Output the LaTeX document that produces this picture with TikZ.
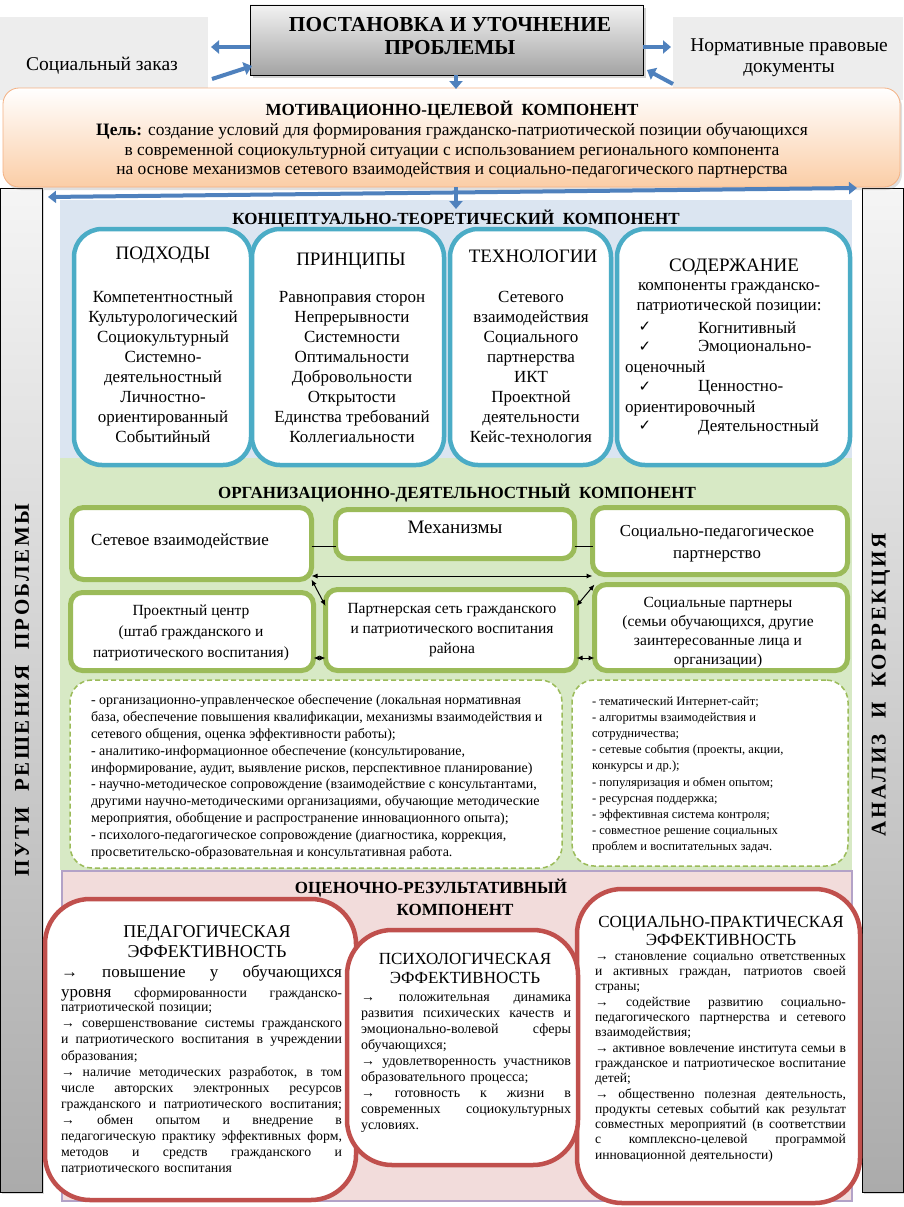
\documentclass[tikz,border=0pt]{standalone}
\usepackage{fontspec}
\setmainfont{LiberationSerif}[Extension=.ttf, UprightFont=*-Regular, BoldFont=*-Bold, ItalicFont=*-Italic, BoldItalicFont=*-BoldItalic]
\newfontfamily\dejavu{DejaVu Sans}
\newfontfamily\barfont{LiberationSerif}[Extension=.ttf, UprightFont=*-Regular, BoldFont=*-Bold, LetterSpace=12]
\usetikzlibrary{shadows,arrows.meta}
\definecolor{arrowblue}{HTML}{4F81BD}
\definecolor{aqualine}{HTML}{4BACC6}
\definecolor{oliveline}{HTML}{9BBB59}
\definecolor{redline}{HTML}{C0504D}
\definecolor{bluebg}{HTML}{DBE5F1}
\definecolor{greenbg}{HTML}{D7E9C5}
\definecolor{pinkbg}{HTML}{F2DCDB}
\definecolor{lavline}{HTML}{B3A2C7}
\definecolor{peach}{HTML}{FBCDA6}
\definecolor{peachline}{HTML}{F4B183}
\definecolor{sidegray}{HTML}{EDEDED}
\newcommand\fs[2]{\fontsize{#1}{#2}\selectfont}
\newcommand\jl[1]{\leavevmode\hbox to\hsize{\spaceskip=0.28em plus 1fil minus 0.06em\relax #1}}
\begin{document}
\begin{tikzpicture}[x=1pt,y=-1pt,
  plainrect/.style={rectangle, inner sep=0pt, outer sep=0pt},
  txt/.style={inner sep=0pt, outer sep=0pt},
  barrow/.style={draw=arrowblue, line width=4pt, -{Triangle[length=8pt,width=13pt]}},
  aquabox/.style={plainrect, draw=aqualine, line width=4.5pt, fill=white, rounded corners=28pt},
  olivebox/.style={plainrect, draw=oliveline, line width=5pt, fill=white, rounded corners=12pt},
  dashbox/.style={plainrect, draw=oliveline, line width=1.5pt, dash pattern=on 5pt off 3pt, fill=white, rounded corners=22pt},
  redbox/.style={plainrect, draw=redline, line width=4.5pt, fill=white, rounded corners=45pt},
  dblarrow/.style={draw=black, line width=1pt, {Latex[length=6pt,width=5pt]}-{Latex[length=6pt,width=5pt]}},
  thinline/.style={draw=black, line width=0.8pt},
  sidebar/.style={plainrect, draw=black, line width=0.8pt, top color=black!4, bottom color=black!33},
  ttl/.style={txt, font=\bfseries\fs{17}{21}},
  itm/.style={txt, align=center, font=\fs{17}{20}},
  hdr/.style={txt, font=\fs{19}{22}},
  chk/.style={txt, font=\dejavu\fs{15}{16}},
]
\useasboundingbox (0,0) rectangle (903,1207);
\fill[white] (0,0) rectangle (903,1207);

% grey side areas at the top
\node[plainrect, fill=sidegray, minimum width=208pt, minimum height=83pt] (lgray) at (104,58.5) {};
\node[plainrect, fill=sidegray, minimum width=230pt, minimum height=83pt] (rgray) at (788,58.5) {};
\node[txt, font=\fs{19.5}{22}] (lgraytxt) at (102,66) {Социальный заказ};
\node[txt, align=center, font=\fs{19.5}{21}] (rgraytxt) at (789,57.5) {Нормативные правовые\\документы};

% side bars
\node[sidebar, drop shadow={opacity=0.3,shadow xshift=2pt,shadow yshift=-2pt}, minimum width=42pt, minimum height=1004pt] (lbar) at (21,690) {};
\node[sidebar, drop shadow={opacity=0.3,shadow xshift=2pt,shadow yshift=-2pt}, minimum width=41pt, minimum height=1004pt] (rbar) at (882.5,690) {};
\node[txt, rotate=90, font=\barfont\bfseries\fs{21}{24}] (lbartxt) at (22,690) {ПУТИ\hspace{15pt}РЕШЕНИЯ\hspace{15pt}ПРОБЛЕМЫ};
\node[txt, rotate=90, font=\barfont\bfseries\fs{21}{24}] (rbartxt) at (881,685) {АНАЛИЗ\hspace{15pt}И\hspace{15pt}КОРРЕКЦИЯ};

% section backgrounds
\node[plainrect, fill=bluebg, minimum width=792pt, minimum height=258pt] (bluebg) at (456,329) {};
\node[plainrect, fill=greenbg, minimum width=792pt, minimum height=412pt] (greenbg) at (456,664) {};
\node[plainrect, fill=pinkbg, draw=lavline, line width=2.5pt, minimum width=790pt, minimum height=330pt] (pinkbg) at (457,1036) {};

% top box
\node[plainrect, draw=black, line width=0.8pt, top color=black!5, bottom color=black!36,
  drop shadow={opacity=0.35,shadow xshift=3pt,shadow yshift=-3pt},
  minimum width=393pt, minimum height=70pt] (topbox) at (446.5,40) {};
\node[txt, align=center, font=\bfseries\fs{21.3}{23}] (toptxt) at (450,36) {ПОСТАНОВКА И УТОЧНЕНИЕ\\ПРОБЛЕМЫ};

% top arrows
\coordinate (l1end) at (211,47);
\coordinate (l2start) at (212,79);
\coordinate (l2end) at (252,66);
\coordinate (r1end) at (671,47);
\coordinate (r2start) at (673,84);
\coordinate (r2end) at (647,70);
\draw[barrow] (topbox.west |- l1end) -- (l1end);
\draw[barrow] (l2start) -- (l2end);
\draw[barrow] (topbox.east |- r1end) -- (r1end);
\draw[barrow] (r2start) -- (r2end);

% orange box
\node[plainrect, rounded corners=16pt, draw=peachline, line width=0.8pt, top color=white, bottom color=peach,
  drop shadow={opacity=0.25,shadow xshift=2pt,shadow yshift=-3pt},
  minimum width=897pt, minimum height=99pt] (orange) at (451.5,137.5) {};
\node[ttl] (otitle) at (452,110) {МОТИВАЦИОННО-ЦЕЛЕВОЙ\ \ КОМПОНЕНТ};
\node[txt, align=center, font=\fs{17.4}{19.5}] (otext) at (452,151) {\textbf{Цель:} создание условий для формирования гражданско-патриотической позиции обучающихся\\в современной социокультурной ситуации с использованием регионального компонента\\на основе механизмов сетевого взаимодействия и социально-педагогического партнерства};

\coordinate (d1end) at (456,89);
\draw[barrow] (topbox.south -| d1end) -- (d1end);
\coordinate (ba1) at (48,197);
\coordinate (ba2) at (857,188);
\draw[draw=arrowblue, line width=4pt, {Triangle[length=8pt,width=12pt]}-{Triangle[length=8pt,width=12pt]}] (ba1) -- (ba2);
\coordinate (d2end) at (456,209);
\draw[barrow] (orange.south -| d2end) -- (d2end);

% conceptual component
\node[ttl] (btitle) at (456,219) {КОНЦЕПТУАЛЬНО-ТЕОРЕТИЧЕСКИЙ\ \ КОМПОНЕНТ};
\node[aquabox, minimum width=177pt, minimum height=236pt] (b1) at (162.5,347) {};
\node[aquabox, minimum width=192pt, minimum height=236pt] (b2) at (348,347) {};
\node[aquabox, minimum width=161pt, minimum height=236pt] (b3) at (530.5,347) {};
\node[aquabox, minimum width=233pt, minimum height=236pt] (b4) at (733.5,347) {};

\node[hdr] (b1h) at (163,255) {ПОДХОДЫ};
\node[itm] (b1t) at (163,367) {Компетентностный\\Культурологический\\Социокультурный\\Системно-\\деятельностный\\Личностно-\\ориентированный\\Событийный};
\node[hdr] (b2h) at (351,261) {ПРИНЦИПЫ};
\node[itm] (b2t) at (352,367) {Равноправия сторон\\Непрерывности\\Системности\\Оптимальности\\Добровольности\\Открытости\\Единства требований\\Коллегиальности};
\node[hdr] (b3h) at (533,256) {ТЕХНОЛОГИИ};
\node[itm] (b3t) at (531,367) {Сетевого\\взаимодействия\\Социального\\партнерства\\ИКТ\\Проектной\\деятельности\\Кейс-технология};
\node[hdr] (b4h) at (734,267) {СОДЕРЖАНИЕ};
\node[itm] (b4t) at (729,298) {компоненты гражданско-\\патриотической позиции:};
\node[chk] (ck1) at (645,327) {✓};
\node[chk] (ck2) at (645,347) {✓};
\node[chk] (ck3) at (645,387) {✓};
\node[chk] (ck4) at (645,426) {✓};
\node[txt, anchor=west, font=\fs{17}{20}] (k1) at (698,328) {Когнитивный};
\node[txt, anchor=west, font=\fs{17}{20}] (k2) at (698,348) {Эмоционально-};
\node[txt, anchor=west, font=\fs{17}{20}] (k2b) at (625,368) {оценочный};
\node[txt, anchor=west, font=\fs{17}{20}] (k3) at (698,388) {Ценностно-};
\node[txt, anchor=west, font=\fs{17}{20}] (k3b) at (625,408) {ориентировочный};
\node[txt, anchor=west, font=\fs{17}{20}] (k4) at (698,427) {Деятельностный};

% organisational component
\node[ttl] (gtitle) at (457,493) {ОРГАНИЗАЦИОННО-ДЕЯТЕЛЬНОСТНЫЙ\ \ КОМПОНЕНТ};
\node[olivebox, minimum width=240pt, minimum height=72pt] (g1) at (191.5,543.5) {};
\node[olivebox, minimum width=239pt, minimum height=49pt] (g2) at (455,534) {};
\node[olivebox, minimum width=255pt, minimum height=67pt] (g3) at (720,541) {};
\node[olivebox, minimum width=243pt, minimum height=78pt] (g4) at (192,631.5) {};
\node[olivebox, minimum width=251pt, minimum height=81pt] (g5) at (451,630) {};
\node[olivebox, minimum width=253pt, minimum height=86pt] (g6) at (721,627.5) {};

\node[txt, font=\fs{17}{20}] (g1t) at (180,541) {Сетевое взаимодействие};
\node[txt, font=\fs{19}{22}] (g2t) at (455,527) {Механизмы};
\node[txt, align=center, font=\fs{16.8}{22}] (g3t) at (717,544) {Социально-педагогическое\\партнерство};
\node[txt, align=center, font=\fs{15.5}{21}] (g4t) at (191,633) {Проектный центр\\(штаб гражданского и\\патриотического воспитания)};
\node[txt, align=center, font=\fs{15.5}{20}] (g5t) at (452,630) {Партнерская сеть гражданского\\и патриотического воспитания\\района};
\node[txt, align=center, font=\fs{15.5}{19.3}] (g6t) at (718,632.5) {Социальные партнеры\\(семьи обучающихся, другие\\заинтересованные лица и\\организации)};

\coordinate (ya) at (0,546);
\coordinate (yb) at (0,576);
\coordinate (yc) at (0,658);
\coordinate (yd) at (0,606);
\draw[thinline] (g1.east |- ya) -- (g2.west |- ya);
\draw[thinline] (g2.east |- ya) -- (g3.west |- ya);
\draw[dblarrow] (g1.east |- yb) -- (g3.west |- yb);
\draw[dblarrow] (g1.south east) -- (g5.west |- yd);
\draw[dblarrow] (g6.north west) -- (g5.east |- yd);
\draw[dblarrow] (g4.east |- yc) -- (g5.west |- yc);
\draw[dblarrow] (g5.east |- yc) -- (g6.west |- yc);

\node[dashbox, minimum width=492pt, minimum height=188pt] (d1) at (316,774) {};
\node[dashbox, minimum width=276pt, minimum height=186pt] (d2) at (710,773) {};
\node[txt, anchor=west, align=left, font=\fs{14}{16.9}] (d1t) at (91,777) {- организационно-управленческое обеспечение (локальная нормативная\\база, обеспечение повышения квалификации, механизмы взаимодействия и\\сетевого общения, оценка эффективности работы);\\- аналитико-информационное обеспечение (консультирование,\\информирование, аудит, выявление рисков, перспективное планирование)\\- научно-методическое сопровождение (взаимодействие с консультантами,\\другими научно-методическими организациями, обучающие методические\\мероприятия, обобщение и распространение инновационного опыта);\\- психолого-педагогическое сопровождение (диагностика, коррекция,\\просветительско-образовательная и консультативная работа.};
\node[txt, anchor=west, align=left, font=\fs{12.6}{16.2}] (d2t) at (592,775) {- тематический Интернет-сайт;\\- алгоритмы взаимодействия и\\сотрудничества;\\- сетевые события (проекты, акции,\\конкурсы и др.);\\- популяризация и обмен опытом;\\- ресурсная поддержка;\\- эффективная система контроля;\\- совместное решение социальных\\проблем и воспитательных задач.};

% evaluative component
\node[ttl] (ptitle1) at (431,888) {ОЦЕНОЧНО-РЕЗУЛЬТАТИВНЫЙ};
\node[ttl] (ptitle2) at (455,910) {КОМПОНЕНТ};
\node[redbox, minimum width=311pt, minimum height=301pt] (r1) at (200.5,1049.5) {};
\node[redbox, minimum width=283pt, minimum height=314pt] (r3) at (718.5,1046) {};
\node[redbox, minimum width=231pt, minimum height=235pt] (r2) at (462.5,1047.5) {};

\node[txt, align=center, font=\fs{18}{20}] (r1h) at (207,942) {ПЕДАГОГИЧЕСКАЯ\\ЭФФЕКТИВНОСТЬ};
\node[txt, text width=281pt, align=left, font=\fs{17}{20}] (r1a) at (201.5,983) {\jl{→ повышение у обучающихся}\\\jl{уровня {\fs{13.8}{16}сформированности гражданско-}}};
\node[txt, text width=281pt, align=left, font=\fs{13.8}{16.1}] (r1b) at (201.5,1089) {патриотической позиции;\\\jl{→ совершенствование системы гражданского}\\\jl{и патриотического воспитания в учреждении}\\образования;\\\jl{→ наличие методических разработок, в том}\\\jl{числе авторских электронных ресурсов}\\\jl{гражданского и патриотического воспитания;}\\\jl{→ обмен опытом и внедрение в}\\\jl{педагогическую практику эффективных форм,}\\\jl{методов и средств гражданского и}\\патриотического воспитания};

\node[txt, align=center, font=\fs{17}{19}] (r2h) at (465,968.5) {ПСИХОЛОГИЧЕСКАЯ\\ЭФФЕКТИВНОСТЬ};
\node[txt, text width=210pt, align=left, font=\fs{14}{16}] (r2b) at (466,1064) {\jl{→ положительная динамика}\\\jl{развития психических качеств и}\\\jl{эмоционально-волевой сферы}\\обучающихся;\\\jl{→ удовлетворенность участников}\\образовательного процесса;\\\jl{→ готовность к жизни в}\\\jl{современных социокультурных}\\условиях.};

\node[txt, align=center, font=\fs{17}{18}] (r3h) at (721,931) {СОЦИАЛЬНО-ПРАКТИЧЕСКАЯ\\ЭФФЕКТИВНОСТЬ};
\node[txt, text width=251pt, align=left, font=\fs{13.6}{15.3}] (r3b) at (720.5,1058) {\jl{→ становление социально ответственных}\\\jl{и активных граждан, патриотов своей}\\страны;\\\jl{→ содействие развитию социально-}\\\jl{педагогического партнерства и сетевого}\\взаимодействия;\\\jl{→ активное вовлечение института семьи в}\\\jl{гражданское и патриотическое воспитание}\\детей;\\\jl{→ общественно полезная деятельность,}\\\jl{продукты сетевых событий как результат}\\\jl{совместных мероприятий (в соответствии}\\\jl{с комплексно-целевой программой}\\инновационной деятельности)};
\end{tikzpicture}
\end{document}
